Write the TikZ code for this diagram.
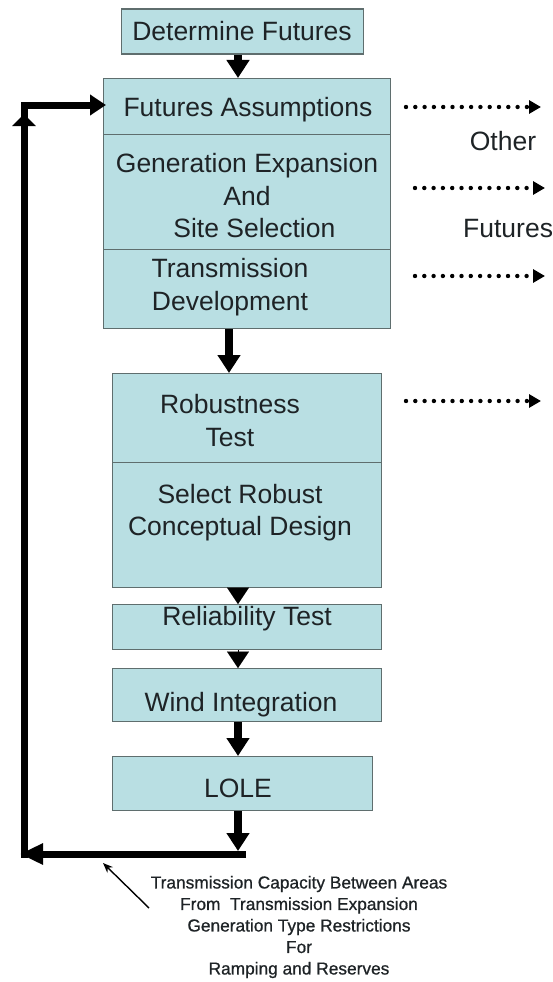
\documentclass[tikz,border=0pt]{standalone}
\usepackage{fontspec}
\setmainfont{Liberation Sans}
\newfontfamily\capfont[FakeBold=0.8]{Liberation Sans}
\usetikzlibrary{arrows.meta}
\definecolor{boxfill}{HTML}{B9DFE3}
\definecolor{boxline}{HTML}{5F6E6E}
\definecolor{txt}{HTML}{1E2326}
\tikzset{
  stagebox/.style={draw=boxline, fill=boxfill, line width=1.3pt, rectangle, inner sep=0pt},
  boxtext/.style={text=txt, font=\fontsize{26.5}{32.5}\selectfont, align=center, inner sep=0pt},
  captext/.style={text=txt, font=\capfont\fontsize{17.3}{21.5}\selectfont, align=center, inner sep=0pt},
  flow/.style={line width=7.5pt, -{Triangle[length=18pt,width=22pt]}},
  headonly/.style={line width=0.1pt, -{Triangle[length=16.5pt,width=22pt]}},
  fbk/.style={line width=7pt, line join=miter},
  dots/.style={line width=4.4pt, line cap=round, dash pattern=on 0pt off 9.3pt, -{Triangle[length=12pt,width=13pt]}},
}
\begin{document}
\begin{tikzpicture}[x=1pt,y=-1pt]
\useasboundingbox (0,0) rectangle (553,982);
% boxes
\node[stagebox, minimum width=242pt, minimum height=45pt, anchor=north west] (det) at (121,8.5) {};
\node[stagebox, minimum width=287pt, minimum height=56pt, anchor=north west] (fa) at (103,78) {};
\node[stagebox, minimum width=287pt, minimum height=115pt, anchor=north west] (ge) at (103,134) {};
\node[stagebox, minimum width=287pt, minimum height=79pt, anchor=north west] (td) at (103,249) {};
\node[stagebox, minimum width=269pt, minimum height=89pt, anchor=north west] (rt) at (112,373) {};
\node[stagebox, minimum width=269pt, minimum height=125pt, anchor=north west] (sr) at (112,462) {};
\node[stagebox, minimum width=269pt, minimum height=45pt, anchor=north west] (rel) at (112,604) {};
\node[stagebox, minimum width=269pt, minimum height=53pt, anchor=north west] (wind) at (112,668) {};
\node[stagebox, minimum width=260pt, minimum height=54pt, anchor=north west] (lole) at (112,756) {};
% texts
\node[boxtext] (tdet) at (242,31) {Determine Futures};
\node[boxtext] (tfa) at (248,110) {Futures Assumptions};
\node[boxtext] (tge) at (247,196) {Generation Expansion\\And\\\ \ Site Selection};
\node[boxtext] (ttd) at (230,287) {Transmission\\Development};
\node[boxtext] (trt) at (230,420.5) {Robustness\\Test};
\node[boxtext] (tsr) at (240,512.5) {Select Robust\\Conceptual Design};
\node[boxtext] (trel) at (247,619) {Reliability Test};
\node[boxtext] (twind) at (241,705) {Wind Integration};
\node[boxtext] (tlole) at (238,788) {LOLE};
\node[boxtext] (tother) at (503,141) {Other};
\node[boxtext, anchor=west] (tfut) at (463,229) {Futures};
% helper coordinates
\coordinate (xa) at (238,0);
\coordinate (xb) at (229,0);
% flow arrows
\draw[flow] (det.south -| xa) -- (fa.north -| xa);
\draw[flow] (td.south -| xb) -- (rt.north -| xb);
\draw[headonly] (sr.south -| xa) -- (rel.north -| xa);
\draw[headonly] (rel.south -| xa) -- (wind.north -| xa);
\draw[flow] (wind.south -| xa) -- (lole.north -| xa);
\coordinate (cbr) at (246,854);
\coordinate (cbl) at (20,854);
\coordinate (cbm) at (238,851);
\draw[flow] (lole.south -| xa) -- (cbm);
% feedback loop
\coordinate (cb) at (24,857.5);
\coordinate (ct) at (24,105);
\coordinate (cup) at (24,114);
\draw[fbk, -{Triangle[length=23pt,width=20pt]}] (cbr) -- (cbl);
\draw[fbk, -{Triangle[length=16pt,width=20pt]}] (cb) -- (ct) -- ([xshift=3pt]fa.west |- ct);
\draw[fbk, -{Triangle[length=12pt,width=23pt]}] (cb) -- (cup);
% dotted arrows
\coordinate (d1a) at (406,107); \coordinate (d1b) at (541,107);
\coordinate (d2a) at (415,188); \coordinate (d2b) at (545,188);
\coordinate (d3a) at (415,276); \coordinate (d3b) at (545,276);
\coordinate (d4a) at (406,401); \coordinate (d4b) at (541,401);
\draw[dots] (d1a) -- (d1b);
\draw[dots] (d2a) -- (d2b);
\draw[dots] (d3a) -- (d3b);
\draw[dots] (d4a) -- (d4b);
% caption
\node[captext] (cap) at (299,927) {Transmission Capacity Between Areas\\From~ Transmission Expansion\\Generation Type Restrictions\\For\\Ramping and Reserves};
\coordinate (pa) at (149,908);
\coordinate (pb) at (103,863);
\draw[line width=1.4pt, -{Stealth[length=10pt,width=8pt]}] (pa) -- (pb);
\end{tikzpicture}
\end{document}
